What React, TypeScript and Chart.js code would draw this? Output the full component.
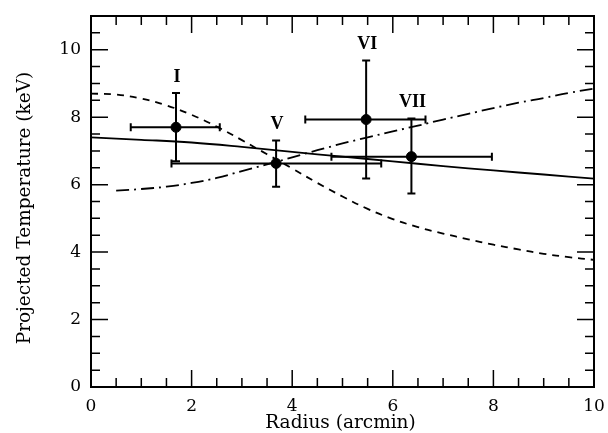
import React, { useEffect, useRef } from "react";
import { Chart, registerables } from "chart.js";

Chart.register(...registerables);

// Data
const regionNames = ["I", "V", "VI", "VII"];
const regionRadius = [1.69, 3.68, 5.47, 6.37];
const regionRadiusLow = [0.79, 1.6, 4.26, 4.78];
const regionRadiusHigh = [2.56, 5.77, 6.65, 7.97];
const regionTemp = [7.7, 6.63, 7.93, 6.83];
const regionTempLow = [6.69, 5.94, 6.18, 5.74];
const regionTempHigh = [8.72, 7.31, 9.68, 7.96];

const solidR = [0, 1, 2, 3, 4, 5, 6, 7, 8, 9, 10];
const solidT = [7.4, 7.33, 7.25, 7.12, 6.97, 6.83, 6.69, 6.55, 6.42, 6.3, 6.18];

const dashedR = [0, 0.5, 1, 1.5, 2, 2.5, 3, 3.5, 4, 4.5, 5, 5.5, 6, 6.5, 7, 7.5, 8, 8.5, 9, 9.5, 10];
const dashedT = [8.7, 8.67, 8.55, 8.35, 8.07, 7.72, 7.32, 6.9, 6.48, 6.05, 5.65, 5.28, 4.98, 4.74, 4.55, 4.38, 4.22, 4.08, 3.95, 3.85, 3.77];

const dashDotR = [0.5, 1, 1.5, 2, 2.5, 3, 3.5, 4, 4.5, 5, 5.5, 6, 6.5, 7, 7.5, 8, 8.5, 9, 9.5, 10];
const dashDotT = [5.82, 5.87, 5.94, 6.05, 6.2, 6.4, 6.6, 6.81, 7.02, 7.22, 7.4, 7.58, 7.75, 7.93, 8.1, 8.27, 8.43, 8.57, 8.72, 8.85];

const xTicks = [0, 2, 4, 6, 8, 10];
const yTicks = [0, 2, 4, 6, 8, 10];

const SERIF = "'DejaVu Serif', 'Liberation Serif', serif";

const framePlugin = {
  id: "framePlugin",
  afterDatasetsDraw(chart: any) {
    const { ctx, chartArea: a, scales } = chart;
    const xs = scales.x;
    const ys = scales.y;
    ctx.save();
    ctx.strokeStyle = "#000";
    // frame
    ctx.lineWidth = 2;
    ctx.strokeRect(a.left, a.top, a.right - a.left, a.bottom - a.top);
    // ticks
    ctx.lineWidth = 1.5;
    const majorLen = 17;
    const minorLen = 9;
    for (let v = 0; v <= 10.0001; v += 0.5) {
      const px = xs.getPixelForValue(v);
      const major = Math.abs(v / 2 - Math.round(v / 2)) < 1e-6;
      const L = major ? majorLen : minorLen;
      ctx.beginPath();
      ctx.moveTo(px, a.bottom);
      ctx.lineTo(px, a.bottom - L);
      ctx.moveTo(px, a.top);
      ctx.lineTo(px, a.top + L);
      ctx.stroke();
    }
    for (let v = 0; v <= 11.0001; v += 0.5) {
      const py = ys.getPixelForValue(v);
      const major = Math.abs(v / 2 - Math.round(v / 2)) < 1e-6;
      const L = major ? majorLen : minorLen;
      ctx.beginPath();
      ctx.moveTo(a.left, py);
      ctx.lineTo(a.left + L, py);
      ctx.moveTo(a.right, py);
      ctx.lineTo(a.right - L, py);
      ctx.stroke();
    }
    // error bars
    ctx.lineWidth = 2;
    const cap = 4;
    for (let i = 0; i < regionRadius.length; i++) {
      const cx = xs.getPixelForValue(regionRadius[i]);
      const cy = ys.getPixelForValue(regionTemp[i]);
      const x1 = xs.getPixelForValue(regionRadiusLow[i]);
      const x2 = xs.getPixelForValue(regionRadiusHigh[i]);
      const y1 = ys.getPixelForValue(regionTempLow[i]);
      const y2 = ys.getPixelForValue(regionTempHigh[i]);
      ctx.beginPath();
      ctx.moveTo(x1, cy);
      ctx.lineTo(x2, cy);
      ctx.moveTo(x1, cy - cap);
      ctx.lineTo(x1, cy + cap);
      ctx.moveTo(x2, cy - cap);
      ctx.lineTo(x2, cy + cap);
      ctx.moveTo(cx, y1);
      ctx.lineTo(cx, y2);
      ctx.moveTo(cx - cap, y1);
      ctx.lineTo(cx + cap, y1);
      ctx.moveTo(cx - cap, y2);
      ctx.lineTo(cx + cap, y2);
      ctx.stroke();
      // region label
      ctx.fillStyle = "#000";
      ctx.font = "bold 18px 'Liberation Serif', serif";
      ctx.textAlign = "center";
      ctx.textBaseline = "bottom";
      ctx.fillText(regionNames[i], cx + 1, y2 - 7);
    }
    // tick labels
    ctx.fillStyle = "#000";
    ctx.font = "17px " + SERIF;
    ctx.textAlign = "center";
    ctx.textBaseline = "middle";
    xTicks.forEach((v) => {
      ctx.fillText(String(v), xs.getPixelForValue(v), a.bottom + 20);
    });
    ctx.textAlign = "right";
    yTicks.forEach((v) => {
      ctx.fillText(String(v), a.left - 10, ys.getPixelForValue(v));
    });
    // titles
    ctx.font = "18.5px " + SERIF;
    ctx.textAlign = "center";
    ctx.fillText("Radius (arcmin)", (a.left + a.right) / 2 - 2, a.bottom + 36);
    ctx.save();
    ctx.translate(25, 208);
    ctx.rotate(-Math.PI / 2);
    ctx.fillText("Projected Temperature (keV)", 0, 0);
    ctx.restore();
    ctx.restore();
  },
};

export default function App() {
  const ref = useRef<HTMLCanvasElement>(null);
  useEffect(() => {
    if (!ref.current) return;
    const chart = new Chart(ref.current, {
      type: "scatter",
      data: {
        datasets: [
          {
            type: "line",
            data: solidR.map((r, i) => ({ x: r, y: solidT[i] })),
            borderColor: "#000",
            borderWidth: 1.8,
            pointRadius: 0,
            tension: 0.4,
            fill: false,
          },
          {
            type: "line",
            data: dashedR.map((r, i) => ({ x: r, y: dashedT[i] })),
            borderColor: "#000",
            borderWidth: 1.8,
            borderDash: [7, 6],
            pointRadius: 0,
            tension: 0.4,
            fill: false,
          },
          {
            type: "line",
            data: dashDotR.map((r, i) => ({ x: r, y: dashDotT[i] })),
            borderColor: "#000",
            borderWidth: 1.8,
            borderDash: [13, 5, 2, 5],
            pointRadius: 0,
            tension: 0.4,
            fill: false,
          },
          {
            type: "scatter",
            data: regionRadius.map((r, i) => ({ x: r, y: regionTemp[i] })),
            backgroundColor: "#000",
            borderColor: "#000",
            pointRadius: 5,
          },
        ],
      },
      options: {
        responsive: false,
        animation: false,
        layout: { padding: { left: 0, top: 16, right: 14, bottom: 0 } },
        plugins: { legend: { display: false }, tooltip: { enabled: false } },
        scales: {
          x: {
            type: "linear",
            min: 0,
            max: 10,
            grid: { display: false },
            border: { display: false },
            ticks: { display: false },
            afterFit: (s: any) => {
              s.height = 46;
            },
          },
          y: {
            type: "linear",
            min: 0,
            max: 11,
            grid: { display: false },
            border: { display: false },
            ticks: { display: false },
            afterFit: (s: any) => {
              s.width = 91;
            },
          },
        },
      },
      plugins: [framePlugin],
    });
    return () => chart.destroy();
  }, []);
  return (
    <div style={{ position: "fixed", left: 0, top: 0, width: 608, height: 433, background: "#fff" }}>
      <canvas ref={ref} width={608} height={433} />
    </div>
  );
}
